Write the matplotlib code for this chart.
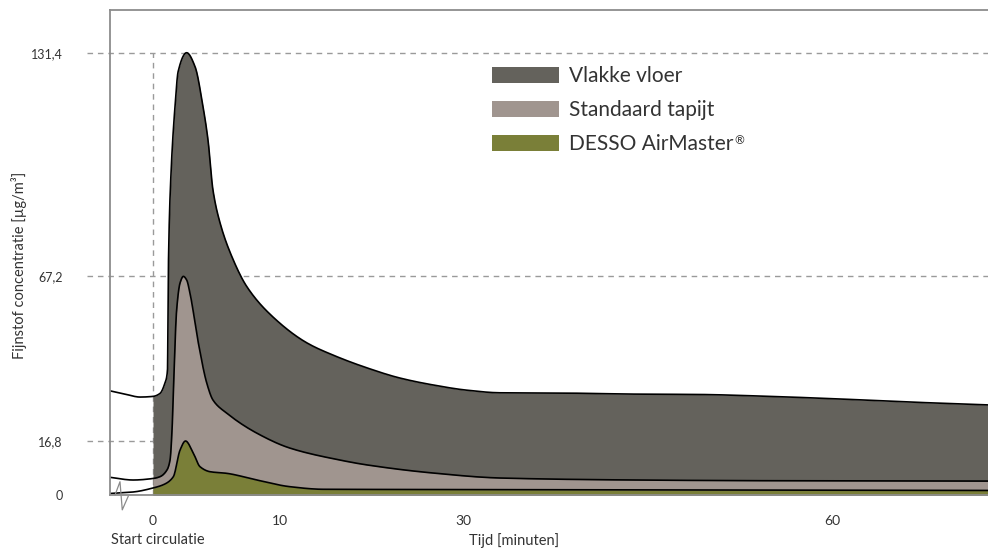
import numpy as np
import matplotlib
matplotlib.use("Agg")
import matplotlib.pyplot as plt
from matplotlib.patches import Patch

plt.rcParams['font.family'] = ['Lato', 'DejaVu Sans']

# ---------------- data (minutes, µg/m³) ----------------
vlak_t = [-3.39, -2.2, -1.02, 0.0, 0.55, 0.94, 1.14, 1.19, 1.22, 1.42, 1.73, 1.98,
          2.65, 3.31, 3.94, 4.33, 4.72, 5.28, 6.22, 7.40, 9.45, 12.95, 15.79,
          19.5, 23.1, 26.7, 30.3, 33.0, 38.5, 43.9, 49.3, 54.2, 60.7, 65.5, 72.7]
vlak_v = [32.1, 31.1, 30.2, 30.4, 31.3, 34.5, 38.4, 59.8, 71.7, 96.8, 115.8, 126.0,
          131.4, 127.4, 115.8, 106.3, 91.9, 82.4, 72.6, 63.8, 54.6, 46.7, 43.0,
          39.1, 36.0, 33.9, 32.3, 31.5, 31.4, 31.1, 30.98, 30.5, 29.6, 28.8, 27.8]

tapijt_t = [-3.39, -1.57, 0.0, 0.55, 1.10, 1.34, 1.50, 1.60, 1.86, 2.13, 2.39, 2.65,
            2.91, 3.57, 4.23, 4.72, 5.80, 8.17, 11.09, 16.56, 19.5, 26.7, 33.0,
            43.9, 54.2, 72.7]
tapijt_v = [5.57, 4.73, 5.2, 5.76, 7.83, 10.9, 20.2, 31.4, 56.7, 65.0, 67.0, 65.9,
            61.9, 46.7, 34.5, 29.3, 25.3, 19.2, 14.6, 10.9, 9.4, 6.9, 5.35,
            4.73, 4.52, 4.4]

desso_t = [-3.39, -1.57, 0.0, 0.94, 1.60, 2.13, 2.56, 3.17, 3.70, 4.49, 5.80, 8.17,
           11.09, 14.7, 23.1, 72.7]
desso_v = [0.56, 1.02, 2.26, 3.5, 5.75, 14.0, 16.8, 13.1, 8.85, 7.3, 6.8, 4.73,
           2.66, 1.86, 1.8, 1.5]

series_labels = ["Vlakke vloer", "Standaard tapijt", "DESSO AirMaster"]
series_colors = ["#64625c", "#a0958f", "#7a7f38"]

y_ticks = [0, 16.8, 67.2, 131.4]
y_ticklabels = ["0", "16,8", "67,2", "131,4"]
x_ticks = [0, 10, 30, 60]
x_ticklabels = ["0", "10", "30", "60"]

# axis positions of the labelled values (schematic, non-linear axes)
x_anchor_val = [-10, 0, 10, 30, 60, 100]
x_anchor_pos = [26, 153, 280, 463, 832, 1324]
y_anchor_val = [-20, 0, 16.8, 67.2, 131.4, 200]
y_anchor_pos = [-64.6, 0, 54.3, 219.6, 442.6, 680.9]


def fx(x):
    return np.interp(x, x_anchor_val, x_anchor_pos)


def fx_inv(p):
    return np.interp(p, x_anchor_pos, x_anchor_val)


def fy(y):
    return np.interp(y, y_anchor_val, y_anchor_pos)


def fy_inv(p):
    return np.interp(p, y_anchor_pos, y_anchor_val)


def pchip(t, v, n=14):
    t = np.asarray(t, float)
    v = np.asarray(v, float)
    h = np.diff(t)
    d = np.diff(v) / h
    m = np.zeros_like(v)
    for i in range(1, len(v) - 1):
        if d[i - 1] * d[i] <= 0:
            m[i] = 0
        else:
            w1 = 2 * h[i] + h[i - 1]
            w2 = h[i] + 2 * h[i - 1]
            m[i] = (w1 + w2) / (w1 / d[i - 1] + w2 / d[i])
    m[0] = d[0]
    m[-1] = d[-1]
    xs, ys = [], []
    for i in range(len(t) - 1):
        s = np.linspace(0, 1, n, endpoint=False)
        h00 = 2 * s**3 - 3 * s**2 + 1
        h10 = s**3 - 2 * s**2 + s
        h01 = -2 * s**3 + 3 * s**2
        h11 = s**3 - s**2
        xs += list(t[i] + s * h[i])
        ys += list(h00 * v[i] + h10 * h[i] * m[i] + h01 * v[i + 1] + h11 * h[i] * m[i + 1])
    xs.append(t[-1])
    ys.append(v[-1])
    return np.array(xs), np.array(ys)


def smooth(t, v):
    # interpolate in the drawn (scaled) space, then map back to data units
    px, py = pchip(fx(t), fy(v))
    return fx_inv(px), fy_inv(py)


fig = plt.figure(figsize=(9.88, 5.48), dpi=100)
ax = fig.add_axes([110 / 988, 52.7 / 548, 878 / 988, 485.3 / 548])

ax.set_xscale('function', functions=(fx, fx_inv))
ax.set_yscale('function', functions=(fy, fy_inv))
ax.set_xlim(-3.386, 72.68)
ax.set_ylim(0, 143.7)

grid_col = "#9a9a9a"
for yv in y_ticks[1:]:
    ax.axhline(yv, xmin=-0.026, xmax=1, color=grid_col, lw=1.0,
               ls=(0, (4, 3.5)), clip_on=False, zorder=1)
ax.plot([0, 0], [0, y_ticks[-1]], color=grid_col, lw=1.0, ls=(0, (4, 3.5)), zorder=1)

for (t, v), col in zip([(vlak_t, vlak_v), (tapijt_t, tapijt_v), (desso_t, desso_v)],
                       series_colors):
    xs, ys = smooth(t, v)
    mask = xs >= 0
    ax.fill_between(xs[mask], 0, ys[mask], color=col, lw=0, zorder=2)
    ax.plot(xs, ys, color="black", lw=1.2, zorder=4)

# axis break mark
ax.plot([-2.99, -2.6, -2.42, -1.94], [0.1, 4.2, -4.5, -0.2], color="#8a8a8a",
        lw=0.9, clip_on=False, zorder=5)

for side in ['left', 'top', 'bottom']:
    ax.spines[side].set_color("#8c8c8c")
    ax.spines[side].set_linewidth(1.3)
    ax.spines[side].set_zorder(6)
ax.spines['right'].set_visible(False)

ax.set_yticks(y_ticks)
ax.set_yticklabels(y_ticklabels, fontsize=9, color="#333333")
ax.set_xticks(x_ticks)
ax.set_xticklabels(x_ticklabels, fontsize=10, color="#333333")
ax.tick_params(axis='y', length=0, pad=34)
ax.tick_params(axis='x', length=0, pad=14)
ax.minorticks_off()

fig.text(19 / 988, 1 - 265 / 548, "Fijnstof concentratie [µg/m³]", rotation=90,
         ha='center', va='center', fontsize=10.5, color="#333333")
fig.text(158 / 988, 1 - 540 / 548, "Start circulatie", ha='center', va='center',
         fontsize=10.5, color="#333333")
fig.text(514 / 988, 1 - 540.5 / 548, "Tijd [minuten]", ha='center', va='center',
         fontsize=10.5, color="#333333")

handles = [Patch(facecolor=c, edgecolor='none') for c in series_colors]
leg = ax.legend(handles, series_labels, loc='upper left',
                bbox_to_anchor=(492 / 988, 1 - 66 / 548), bbox_transform=fig.transFigure,
                frameon=False, prop={'size': 15},
                handlelength=3.2, handleheight=0.82,
                handletextpad=0.5, labelspacing=0.68, borderpad=0, borderaxespad=0)
for txt in leg.get_texts():
    txt.set_color("#333333")

# small superscript registered mark after the last legend entry
fig.canvas.draw()
bb = leg.get_texts()[2].get_window_extent()
fig.text(bb.x1 + 1, bb.y1 - 1, "®", fontsize=8.5, color="#333333",
         ha='left', va='top', transform=None)

fig.savefig("out.png", dpi=100)
